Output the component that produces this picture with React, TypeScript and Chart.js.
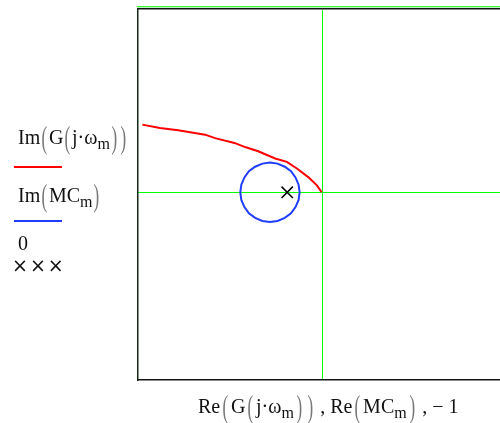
import React, { useEffect, useRef } from "react";
import { Chart, registerables } from "chart.js";

Chart.register(...registerables);

// Open-loop frequency response G(jω): real and imaginary parts
const reG = [-5.2, -4.69, -4.16, -3.38, -3.09, -2.53, -2.22, -1.84, -1.35, -1.01, -0.72, -0.39, -0.14, 0];
const imG = [1.96, 1.86, 1.8, 1.67, 1.57, 1.43, 1.31, 1.19, 0.98, 0.88, 0.69, 0.44, 0.2, 0];

// M-circle MC: real and imaginary parts
const reMC = [
  -0.64, -0.67, -0.76, -0.89, -1.07, -1.28, -1.5, -1.72, -1.93, -2.11, -2.24, -2.33, -2.36,
  -2.33, -2.24, -2.11, -1.93, -1.72, -1.5, -1.28, -1.07, -0.89, -0.76, -0.67, -0.64,
];
const imMC = [
  0, 0.22, 0.43, 0.61, 0.74, 0.83, 0.86, 0.83, 0.74, 0.61, 0.43, 0.22, 0,
  -0.22, -0.43, -0.61, -0.74, -0.83, -0.86, -0.83, -0.74, -0.61, -0.43, -0.22, 0,
];

// Critical point (-1, 0)
const critRe = [-1];
const critIm = [0];

const X_MIN = -5.325;
const X_MAX = 5.168;
const Y_MIN = -5.44;
const Y_MAX = 5.34;

const toPoints = (xs: number[], ys: number[]) => xs.map((x, i) => ({ x, y: ys[i] }));

const framePlugin = {
  id: "mathcadFrame",
  beforeDatasetsDraw(chart: any) {
    const { ctx, chartArea: a, scales } = chart;
    const x0 = Math.round(scales.x.getPixelForValue(0)) + 0.5;
    const y0 = Math.round(scales.y.getPixelForValue(0)) + 0.5;
    ctx.save();
    ctx.strokeStyle = "#00ff00";
    ctx.lineWidth = 1;
    ctx.beginPath();
    ctx.moveTo(x0, a.top);
    ctx.lineTo(x0, a.bottom);
    ctx.moveTo(a.left, y0);
    ctx.lineTo(a.right, y0);
    ctx.stroke();
    ctx.restore();
  },
  afterDraw(chart: any) {
    const { ctx, chartArea: a } = chart;
    ctx.save();
    // green rule above the frame
    ctx.fillStyle = "#33ff33";
    ctx.fillRect(a.left - 1, a.top - 2, a.right - a.left + 1, 1);
    ctx.fillStyle = "#b8f5b8";
    ctx.fillRect(a.left - 1, a.top - 1, a.right - a.left + 1, 1);
    // frame edges
    ctx.fillStyle = "#111";
    ctx.fillRect(a.left, a.top, a.right - a.left, 1);
    ctx.fillRect(a.left, a.bottom - 1, a.right - a.left, 1);
    ctx.fillStyle = "#8a8a8a";
    ctx.fillRect(a.left, a.top + 1, a.right - a.left, 1);
    ctx.fillRect(a.left, a.bottom, a.right - a.left, 1);
    ctx.fillStyle = "#142814";
    ctx.fillRect(a.left - 1, a.top, 1.5, a.bottom - a.top + 1);
    ctx.restore();
  },
};

const parenBase: React.CSSProperties = {
  display: "inline-block",
  transform: "scale(0.85, 1.6)",
  color: "#777",
};
const sub: React.CSSProperties = { fontSize: 16, verticalAlign: -5 };

const P = ({ c, gap = 2 }: { c: string; gap?: number }) => (
  <span style={{ ...parenBase, margin: `0 ${gap}px` }}>{c}</span>
);

export default function App() {
  const canvasRef = useRef<HTMLCanvasElement | null>(null);

  useEffect(() => {
    const canvas = canvasRef.current;
    if (!canvas) return;
    const chart = new Chart(canvas, {
      type: "scatter",
      data: {
        datasets: [
          {
            label: "Im(G(j·ωm))",
            data: toPoints(reG, imG),
            showLine: true,
            borderColor: "#ff0000",
            borderWidth: 2,
            pointRadius: 0,
            tension: 0,
          },
          {
            label: "Im(MCm)",
            data: toPoints(reMC, imMC),
            showLine: true,
            borderColor: "#1f3cff",
            borderWidth: 2,
            pointRadius: 0,
            tension: 0,
          },
          {
            label: "0",
            data: toPoints(critRe, critIm),
            showLine: false,
            pointStyle: "crossRot",
            pointRadius: 8,
            borderColor: "#000",
            borderWidth: 1.5,
          },
        ],
      },
      options: {
        animation: false,
        responsive: false,
        devicePixelRatio: 1,
        layout: { autoPadding: false, padding: { left: 138, top: 8, right: 0, bottom: 43 } },
        plugins: { legend: { display: false }, tooltip: { enabled: false } },
        scales: {
          x: { type: "linear", display: false, min: X_MIN, max: X_MAX },
          y: { type: "linear", display: false, min: Y_MIN, max: Y_MAX },
        },
      },
      plugins: [framePlugin],
    });
    return () => chart.destroy();
  }, []);

  const text: React.CSSProperties = {
    position: "absolute",
    whiteSpace: "nowrap",
    fontSize: 20,
    lineHeight: "20px",
    color: "#111",
  };

  return (
    <div
      style={{
        position: "absolute",
        left: 0,
        top: 0,
        width: 500,
        height: 423,
        background: "#fff",
        fontFamily: '"Liberation Serif", serif',
      }}
    >
      <canvas ref={canvasRef} width={500} height={423} style={{ position: "absolute", left: 0, top: 0 }} />

      <div style={{ ...text, left: 18, top: 127 }}>
        Im<P c="(" gap={1} />G<P c="(" gap={1} />j·ω<span style={sub}>m</span>
        <P c=")" gap={1} />
        <P c=")" gap={1} />
      </div>
      <div style={{ position: "absolute", left: 14, top: 166, width: 48, height: 2, background: "#ff0000" }} />

      <div style={{ ...text, left: 18, top: 185 }}>
        Im<P c="(" gap={1} />MC<span style={sub}>m</span>
        <P c=")" gap={1} />
      </div>
      <div style={{ position: "absolute", left: 14, top: 220, width: 48, height: 2, background: "#1f3cff" }} />

      <div style={{ ...text, left: 18, top: 233 }}>0</div>
      <div
        style={{
          ...text,
          left: 12,
          top: 255,
          fontFamily: '"DejaVu Sans", sans-serif',
          fontSize: 19,
          letterSpacing: 2,
        }}
      >
        ×××
      </div>

      <div style={{ ...text, left: 198, top: 396 }}>
        Re<P c="(" />G<P c="(" />j·ω<span style={sub}>m</span>
        <P c=")" />
        <P c=")" /> , Re<P c="(" />MC<span style={sub}>m</span>
        <P c=")" /> , − 1
      </div>
    </div>
  );
}
